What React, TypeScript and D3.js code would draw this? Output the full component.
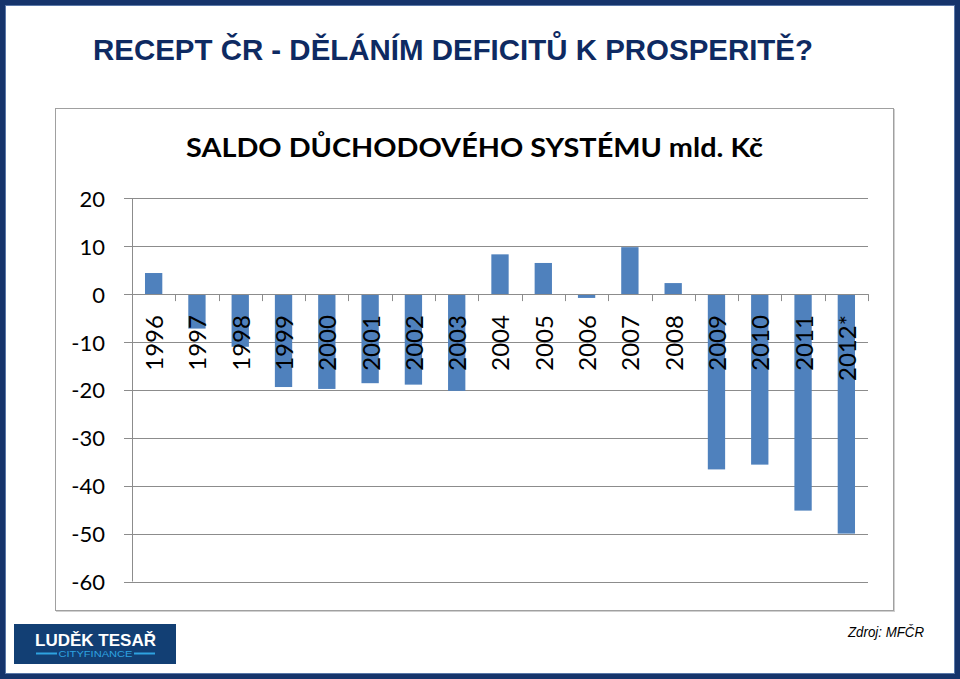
import React from "react";
import * as d3 from "d3";

const years = ["1996","1997","1998","1999","2000","2001","2002","2003","2004","2005","2006","2007","2008","2009","2010","2011","2012*"];
const saldo = [4.4,-7.2,-11.0,-19.4,-19.8,-18.6,-18.9,-20.2,8.3,6.5,-0.8,9.8,2.3,-36.6,-35.6,-45.2,-50.0];
const yTicks = [20,10,0,-10,-20,-30,-40,-50,-60];
const mainTitle = "RECEPT ČR - DĚLÁNÍM DEFICITŮ K PROSPERITĚ?";
const chartTitle = "SALDO DŮCHODOVÉHO SYSTÉMU mld. Kč";
const source = "Zdroj: MFČR";

export default function App() {
  const W = 960, H = 679;
  const x0 = 132, x1 = 868;
  const y = d3.scaleLinear().domain([-60, 20]).range([581.5, 198.3]);
  const x = d3.scaleBand<string>().domain(years).range([x0, x1]).paddingInner(0.6).paddingOuter(0.3);
  const step = x.step();
  const grid = "#8c8c8c";
  const font = "Lato, 'Open Sans', sans-serif";
  return (
    <svg width={W} height={H} style={{ position: "absolute", left: 0, top: 0 }} xmlns="http://www.w3.org/2000/svg">
      <rect x={0} y={0} width={W} height={H} fill="#fff" />
      {/* outer frame */}
      <rect x={2.5} y={2.5} width={W - 5} height={H - 5} fill="none" stroke="#16346b" strokeWidth={5} />
      <rect x={5.5} y={5.5} width={W - 11} height={H - 11} fill="none" stroke="#5a78a8" strokeWidth={1} />
      {/* main title */}
      <text x={93} y={60} fontFamily="'Liberation Sans', Arial, sans-serif" fontWeight="bold" fontSize={30}
        fill="#0e2a62" textLength={720} lengthAdjust="spacingAndGlyphs">{mainTitle}</text>
      {/* chart box */}
      <rect x={56.5} y={109.5} width={838} height={502} fill="none" stroke="#d0d0d0" strokeWidth={1} />
      <rect x={55.5} y={108.5} width={838} height={502} fill="#fff" stroke="#a0a0a0" strokeWidth={1} />
      <text x={474.5} y={157} textAnchor="middle" fontFamily={font} fontWeight="bold" fontSize={26.5}
        fill="#000" textLength={577} lengthAdjust="spacingAndGlyphs">{chartTitle}</text>
      {/* gridlines */}
      {yTicks.map((t) => (
        <g key={t}>
          <line x1={124} x2={x1} y1={Math.round(y(t)) + 0.5} y2={Math.round(y(t)) + 0.5} stroke={grid} strokeWidth={1} />
          <text x={105} y={y(t)} textAnchor="end" dominantBaseline="central" fontFamily={font} fontSize={22} fill="#000">{t}</text>
        </g>
      ))}
      {/* y axis */}
      <line x1={x0 + 0.5} x2={x0 + 0.5} y1={y(20)} y2={y(-60)} stroke={grid} strokeWidth={1} />
      {/* bars */}
      {years.map((yr, i) => {
        const v = saldo[i];
        const top = y(Math.max(0, v));
        const bot = y(Math.min(0, v));
        return <rect key={yr} x={x(yr)} y={top} width={x.bandwidth()} height={bot - top} fill="#4f81bd" />;
      })}
      {/* category axis */}
      <line x1={x0} x2={x1} y1={Math.round(y(0)) + 0.5} y2={Math.round(y(0)) + 0.5} stroke={grid} strokeWidth={1} />
      {years.map((yr, i) => (
        <line key={"t" + yr} x1={Math.round(x0 + step * (i + 1)) + 0.5} x2={Math.round(x0 + step * (i + 1)) + 0.5}
          y1={y(0)} y2={y(0) + 7} stroke={grid} strokeWidth={1} />
      ))}
      {years.map((yr) => {
        const cx = (x(yr) as number) + x.bandwidth() / 2;
        const cy = y(0) + 21;
        return (
          <text key={"l" + yr} x={cx} y={cy} transform={`rotate(-90 ${cx} ${cy})`} textAnchor="end"
            dominantBaseline="central" fontFamily={font} fontSize={24} fill="#000">{yr}</text>
        );
      })}
      {/* source */}
      <text x={848} y={637} fontFamily="'Liberation Sans', Arial, sans-serif" fontStyle="italic" fontSize={15.5}
        fill="#000" textLength={76} lengthAdjust="spacingAndGlyphs">{source}</text>
      {/* logo */}
      <rect x={14} y={624} width={162} height={40} fill="#123f74" />
      <text x={95.5} y={645.5} textAnchor="middle" fontFamily="'Liberation Sans', Arial, sans-serif" fontWeight="bold"
        fontSize={16.5} fill="#fff" textLength={121} lengthAdjust="spacingAndGlyphs">LUDĚK TESAŘ</text>
      <line x1={36} x2={57} y1={653.5} y2={653.5} stroke="#2ea3e0" strokeWidth={2} />
      <line x1={134} x2={155} y1={653.5} y2={653.5} stroke="#2ea3e0" strokeWidth={2} />
      <text x={95.5} y={657} textAnchor="middle" fontFamily="'Liberation Sans', Arial, sans-serif"
        fontSize={8.5} fill="#2ea3e0" textLength={74} lengthAdjust="spacingAndGlyphs">CITYFINANCE</text>
    </svg>
  );
}
